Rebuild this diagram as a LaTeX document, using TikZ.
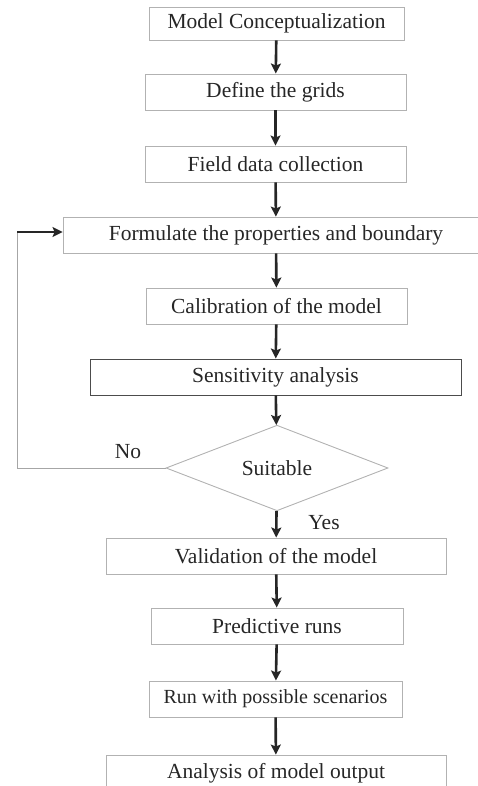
\documentclass[tikz,border=0pt]{standalone}
\usepackage{fontspec}
\setmainfont{Liberation Serif}
\usetikzlibrary{shapes.geometric,arrows.meta}
\begin{document}
\begin{tikzpicture}[x=1pt,y=-1pt,
  font=\fontsize{21.5}{25}\selectfont,
  box/.style={draw=black!30,line width=0.9pt,minimum height=36pt,inner sep=0pt,text=black!85},
  darkbox/.style={box,draw=black!70},
  dec/.style={diamond,draw=black!30,line width=0.9pt,inner sep=0pt,text=black!85},
  flow/.style={draw=black!85,line width=2.6pt,-{Stealth[length=10pt,width=10pt,inset=2pt]}},
  loop/.style={draw=black!35,line width=0.9pt},
  lbl/.style={text=black!85}]
\useasboundingbox (0,0) rectangle (477,786);
\node[box,minimum width=255pt,minimum height=33pt] (b1) at (276.5,23.5) {Model Conceptualization};
\node[box,minimum width=261pt] (b2) at (275.5,92) {Define the grids};
\node[box,minimum width=261pt] (b3) at (275.5,164) {Field data collection};
\node[box,minimum width=426pt] (b4) at (276,235) {Formulate the properties and boundary};
\node[box,minimum width=261pt] (b5) at (276.5,306) {Calibration of the model};
\node[darkbox,minimum width=371pt] (b6) at (275.5,377) {Sensitivity analysis};
\node[dec,minimum width=222pt,minimum height=72pt] (d) at (277,468) {Suitable};
\node[box,minimum width=340pt] (b7) at (276,556) {Validation of the model};
\node[box,minimum width=252pt] (b8) at (277,626) {Predictive runs};
\node[box,minimum width=253pt,font=\fontsize{20}{24}\selectfont] (b9) at (275.5,699) {Run with possible scenarios};
\node[box,minimum width=340pt] (b10) at (276,773) {Analysis of model output};
\node[lbl] (no) at (128,452) {No};
\node[lbl] (yes) at (324,523) {Yes};
\coordinate (c1) at (17,468);
\coordinate (c2) at (17,232);
\draw[flow] (b1) -- (b2);
\draw[flow] (b2) -- (b3);
\draw[flow] (b3) -- (b4);
\draw[flow] (b4) -- (b5);
\draw[flow] (b5) -- (b6);
\draw[flow] (b6) -- (d);
\draw[flow] (d) -- (b7);
\draw[flow] (b7) -- (b8);
\draw[flow] (b8) -- (b9);
\draw[flow] (b9) -- (b10);
\draw[loop] (d.west) -- (c1) -- (c2);
\draw[flow] (c2) -- (c2 -| b4.west);
\end{tikzpicture}
\end{document}
